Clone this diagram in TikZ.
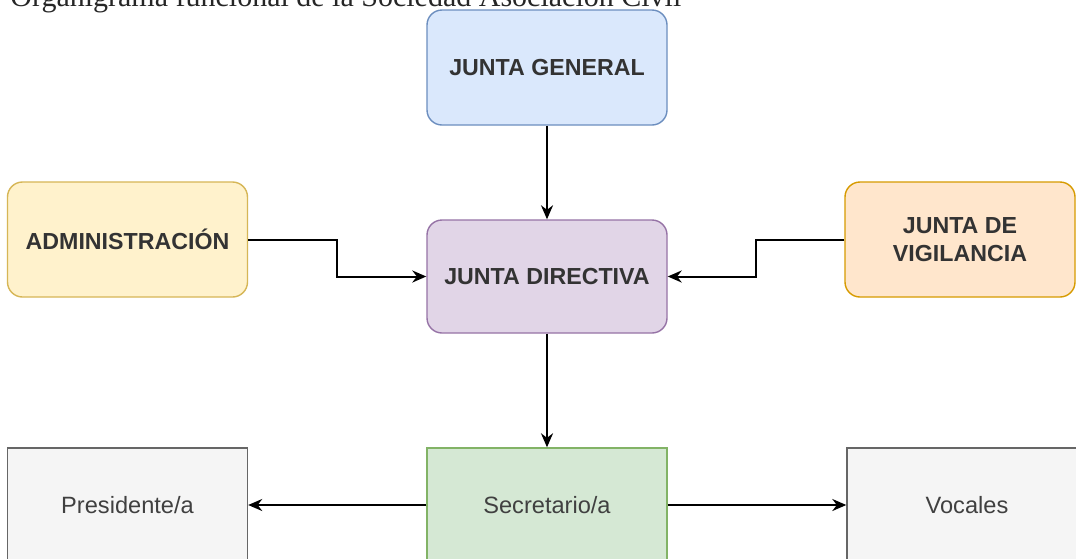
\documentclass[tikz,border=0pt]{standalone}
\usepackage{fontspec}
\setmainfont{Liberation Sans}
\newfontfamily\titlefont{Liberation Serif}
\usepackage{xcolor}
\usepackage{tikz}
\usetikzlibrary{positioning,calc,arrows.meta}
\definecolor{azulf}{HTML}{DAE8FC}\definecolor{azull}{HTML}{6C8EBF}
\definecolor{amaf}{HTML}{FFF2CC}\definecolor{amal}{HTML}{D6B656}
\definecolor{moraf}{HTML}{E1D5E7}\definecolor{moral}{HTML}{9673A6}
\definecolor{narf}{HTML}{FFE6CC}\definecolor{narl}{HTML}{D79B00}
\definecolor{verf}{HTML}{D5E8D4}\definecolor{verl}{HTML}{82B366}
\definecolor{grisf}{HTML}{F5F5F5}\definecolor{grisl}{HTML}{666666}
\tikzstyle{caja}= [draw, rounded corners=7.5pt, line width=0.7pt, minimum width=120pt, minimum height=57.5pt, align=center, text=black!80, font=\bfseries\fontsize{11.6}{14}\selectfont]
\tikzstyle{cuadro}= [draw, line width=0.7pt, minimum width=120pt, minimum height=57pt, text=black!75, font=\fontsize{11.8}{14}\selectfont]
\tikzstyle{flecha}= [-{Stealth[length=7pt,width=6pt]}, line width=1pt]

\begin{document}
\begin{tikzpicture}[x=0.5pt,y=-0.5pt]
				\clip (0,0) rectangle (1076,558);
				\fill[white] (0,0) rectangle (1076,558);
				\node[anchor=base west, inner sep=0pt, text=black!85, font=\titlefont\fontsize{15}{18}\selectfont] (titulo) at (10,6) {Organigrama funcional de la Sociedad Asociación Civil};

				\node[caja, fill=azulf, draw=azull] (jg)  at (547,67.5) {JUNTA GENERAL};
				\node[caja, fill=amaf, draw=amal] (adm)  at (127.5,239.5) {ADMINISTRACIÓN};
				\node[caja, fill=moraf, draw=moral, minimum height=56.5pt] (jd)  at (547,276.5) {JUNTA DIRECTIVA};
				\node[caja, fill=narf, draw=narl, minimum width=115pt] (vig)  at (960,239.5) {JUNTA DE\\VIGILANCIA};

				\node[cuadro, fill=grisf, draw=grisl] (pres) at (127.5,505) {Presidente/a};
				\node[cuadro, fill=verf, draw=verl] (sec) at (547,505) {Secretario/a};
				\node[cuadro, fill=grisf, draw=grisl] (voc) at (967,505) {Vocales};

				\draw[flecha] (jg) -- (jd);
				\draw[flecha] (adm.east) -| ($(adm.east)!0.5!(jd.west)$) |- (jd.west);
				\draw[flecha] (vig.west) -| ($(vig.west)!0.5!(jd.east)$) |- (jd.east);
				\draw[flecha] (jd) -- (sec);
				\draw[flecha] (sec) -- (pres);
				\draw[flecha] (sec) -- (voc);
			\end{tikzpicture}
\end{document}
